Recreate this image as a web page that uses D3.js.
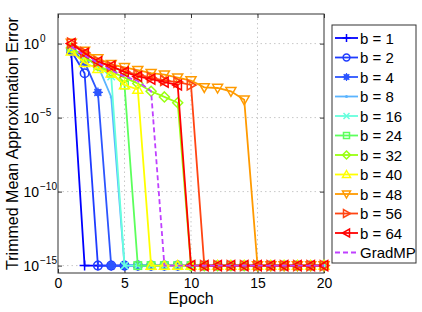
<!DOCTYPE html>
<html>
<head>
<meta charset="utf-8">
<script src="https://cdn.jsdelivr.net/npm/d3@7"></script>
<style>
  body { margin: 0; background: #fff; }
  svg { font-family: "Liberation Sans", Arial, sans-serif; }
  .grid line { stroke: #c8c8c8; stroke-dasharray: 1.5,3; }
</style>
</head>
<body>
<div id="chart"></div>
<script>
// epochs 1..20
const epochs = d3.range(1, 21);
const floorVal = 1e-15;

// values, padded with the floor value up to epoch 20
const b1  = [2.3e-1];
const b2  = [3.2e-1, 1e-2];
const b4  = [4e-1, 5.6e-2, 5e-4];
const b8  = [4e-1, 1.2e-1, 3.2e-2, 2.5e-4];
const b16 = [5e-1, 1.3e-1, 3.2e-2, 6e-3];
const b24 = [5e-1, 1.3e-1, 3.2e-2, 1e-2, 1.6e-3];
const b32 = [5e-1, 1.3e-1, 3.2e-2, 1.3e-2, 5e-3, 2e-3, 6e-4, 2.5e-4, 1e-4];
const b40 = [3e-1, 5e-2, 2e-2, 1e-2, 1.6e-3, 8e-4];
const b48 = [1.1, 3.2e-1, 1e-1, 4e-2, 2.5e-2, 1.6e-2, 1e-2, 8e-3, 5e-3, 3.2e-3, 1.1e-3, 1e-3, 6e-4, 1.6e-4];
const b56 = [1.1, 2.5e-1, 6e-2, 2.8e-2, 1.3e-2, 8e-3, 5e-3, 3.2e-3, 2.5e-3, 1.6e-3];
const b64 = [1, 2.2e-1, 6e-2, 3e-2, 1.2e-2, 6e-3, 4e-3, 2.5e-3, 1.6e-3];
const gradmp = [6e-1, 1.6e-1, 5e-2, 1.6e-2, 6e-3, 3e-3, 6e-4];

const seriesNames = ["b = 1", "b = 2", "b = 4", "b = 8", "b = 16", "b = 24",
  "b = 32", "b = 40", "b = 48", "b = 56", "b = 64", "GradMP"];
const seriesValues = [b1, b2, b4, b8, b16, b24, b32, b40, b48, b56, b64, gradmp];
const seriesColors = ["#0000ff", "#1f3cff", "#2c55ff", "#5ab4ff", "#66ffdd", "#5cff5c",
  "#99ff11", "#ffff00", "#ff9a00", "#ff4513", "#ff0000", "#bf40ff"];
const seriesMarkers = ["plus", "circle", "star", "dot", "cross", "square",
  "diamond", "up", "down", "right", "left", "none"];

const xTicks = [0, 5, 10, 15, 20];
const yTicks = [0, -5, -10, -15];   // exponents

const W = 422, H = 312;
const m = { top: 14, right: 98, bottom: 39, left: 58 };

const svg = d3.select("#chart").append("svg")
  .attr("width", W).attr("height", H);

const x = d3.scaleLinear().domain([0, 20]).range([m.left, W - m.right]);
const y = d3.scaleLog().domain([Math.pow(10, -15.5), 100]).range([H - m.bottom, m.top]);

const data = seriesValues.map(v => epochs.map((e, i) => [e, i < v.length ? v[i] : floorVal]));

// grid
const grid = svg.append("g").attr("class", "grid");
grid.selectAll(".gx").data(xTicks.slice(1, -1)).enter().append("line")
  .attr("x1", d => x(d)).attr("x2", d => x(d))
  .attr("y1", m.top).attr("y2", H - m.bottom);
grid.selectAll(".gy").data(yTicks).enter().append("line")
  .attr("y1", d => y(Math.pow(10, d))).attr("y2", d => y(Math.pow(10, d)))
  .attr("x1", m.left).attr("x2", W - m.right);

// axes (ticks inward, on all four sides)
const tl = -4;
svg.append("g").attr("transform", `translate(0,${H - m.bottom})`)
  .call(d3.axisBottom(x).tickValues(xTicks).tickSize(tl).tickPadding(5))
  .call(g => g.select(".domain").remove());
svg.append("g").attr("transform", `translate(0,${m.top})`)
  .call(d3.axisTop(x).tickValues(xTicks).tickSize(tl).tickFormat(""))
  .call(g => g.select(".domain").remove());
svg.append("g").attr("transform", `translate(${m.left},0)`)
  .call(d3.axisLeft(y).tickValues(yTicks.map(d => Math.pow(10, d))).tickSize(tl).tickFormat(""))
  .call(g => g.select(".domain").remove());
svg.append("g").attr("transform", `translate(${W - m.right},0)`)
  .call(d3.axisRight(y).tickValues(yTicks.map(d => Math.pow(10, d))).tickSize(tl).tickFormat(""))
  .call(g => g.select(".domain").remove());
svg.selectAll(".tick line").attr("stroke", "#333");
svg.selectAll(".tick text").attr("font-size", 14).attr("fill", "#000")
  .attr("font-family", "Liberation Sans, Arial, sans-serif");

// y tick labels as 10^k
const yl = svg.append("g");
yTicks.forEach(k => {
  yl.append("text").attr("x", 39).attr("y", y(Math.pow(10, k)) + 5)
    .attr("font-size", 14).attr("text-anchor", "end").text("10");
  yl.append("text").attr("x", 40).attr("y", y(Math.pow(10, k)) - 2)
    .attr("font-size", 10).text(k === 0 ? "0" : "\u2212" + (-k));
});

// frame
svg.append("rect").attr("x", m.left).attr("y", m.top)
  .attr("width", W - m.left - m.right).attr("height", H - m.top - m.bottom)
  .attr("fill", "none").attr("stroke", "#333").attr("stroke-width", 1);

// marker drawing
function marker(g, type, color, s) {
  const r = s;
  if (type === "plus") {
    g.append("path").attr("d", `M${-r},0H${r}M0,${-r}V${r}`).attr("stroke", color).attr("stroke-width", 1.5);
  } else if (type === "circle") {
    g.append("circle").attr("r", r * 0.85).attr("fill", "none").attr("stroke", color).attr("stroke-width", 1.5);
  } else if (type === "star") {
    g.append("circle").attr("r", r * 0.75).attr("fill", color);
    g.append("path").attr("d", `M${-r},0H${r}M0,${-r}V${r}M${-r*0.7},${-r*0.7}L${r*0.7},${r*0.7}M${-r*0.7},${r*0.7}L${r*0.7},${-r*0.7}`)
      .attr("stroke", color).attr("stroke-width", 1.2);
  } else if (type === "dot") {
    g.append("circle").attr("r", 1.5).attr("fill", color);
  } else if (type === "cross") {
    const q = r * 0.75;
    g.append("path").attr("d", `M${-q},${-q}L${q},${q}M${-q},${q}L${q},${-q}`).attr("stroke", color).attr("stroke-width", 1.5);
  } else if (type === "square") {
    const q = r * 0.75;
    g.append("rect").attr("x", -q).attr("y", -q).attr("width", 2 * q).attr("height", 2 * q)
      .attr("fill", "none").attr("stroke", color).attr("stroke-width", 1.5);
  } else if (type === "diamond") {
    g.append("path").attr("d", `M0,${-r}L${r},0L0,${r}L${-r},0Z`).attr("fill", "none").attr("stroke", color).attr("stroke-width", 1.5);
  } else if (type === "up") {
    g.append("path").attr("d", `M0,${-r}L${r},${r*0.75}L${-r},${r*0.75}Z`).attr("fill", "none").attr("stroke", color).attr("stroke-width", 1.5);
  } else if (type === "down") {
    g.append("path").attr("d", `M0,${r}L${r},${-r*0.75}L${-r},${-r*0.75}Z`).attr("fill", "none").attr("stroke", color).attr("stroke-width", 1.5);
  } else if (type === "right") {
    g.append("path").attr("d", `M${r},0L${-r*0.75},${r}L${-r*0.75},${-r}Z`).attr("fill", "none").attr("stroke", color).attr("stroke-width", 1.5);
  } else if (type === "left") {
    g.append("path").attr("d", `M${-r},0L${r*0.75},${r}L${r*0.75},${-r}Z`).attr("fill", "none").attr("stroke", color).attr("stroke-width", 1.5);
  }
}

const line = d3.line().x(d => x(d[0])).y(d => y(d[1]));

data.forEach((d, i) => {
  const g = svg.append("g");
  g.append("path").datum(d)
    .attr("d", line)
    .attr("fill", "none")
    .attr("stroke", seriesColors[i])
    .attr("stroke-width", 1.8)
    .attr("stroke-dasharray", seriesMarkers[i] === "none" ? "5,3" : null);
  g.selectAll(".mk").data(d).enter().append("g")
    .attr("transform", p => `translate(${x(p[0])},${y(p[1])})`)
    .each(function () { marker(d3.select(this), seriesMarkers[i], seriesColors[i], 5); });
});

// axis titles
svg.append("text").attr("x", x(10)).attr("y", 304).attr("text-anchor", "middle")
  .attr("font-size", 16).text("Epoch");
svg.append("text").attr("transform", `translate(18,${(m.top + H - m.bottom) / 2}) rotate(-90)`)
  .attr("text-anchor", "middle").attr("font-size", 16)
  .text("Trimmed Mean Approximation Error");

// legend
const lg = svg.append("g").attr("transform", "translate(332,25)");
lg.append("rect").attr("width", 84).attr("height", 238)
  .attr("fill", "#fff").attr("stroke", "#333").attr("stroke-width", 1);
seriesNames.forEach((name, i) => {
  const yy = 13 + i * 19.5;
  const row = lg.append("g").attr("transform", `translate(0,${yy})`);
  row.append("line").attr("x1", 3).attr("x2", 26).attr("y1", 0).attr("y2", 0)
    .attr("stroke", seriesColors[i]).attr("stroke-width", 1.8)
    .attr("stroke-dasharray", seriesMarkers[i] === "none" ? "5,3" : null);
  const mg = row.append("g").attr("transform", "translate(14.5,0)");
  marker(mg, seriesMarkers[i], seriesColors[i], 4);
  row.append("text").attr("x", 28).attr("y", 5.5).attr("font-size", 15).text(name);
});
</script>
</body>
</html>
